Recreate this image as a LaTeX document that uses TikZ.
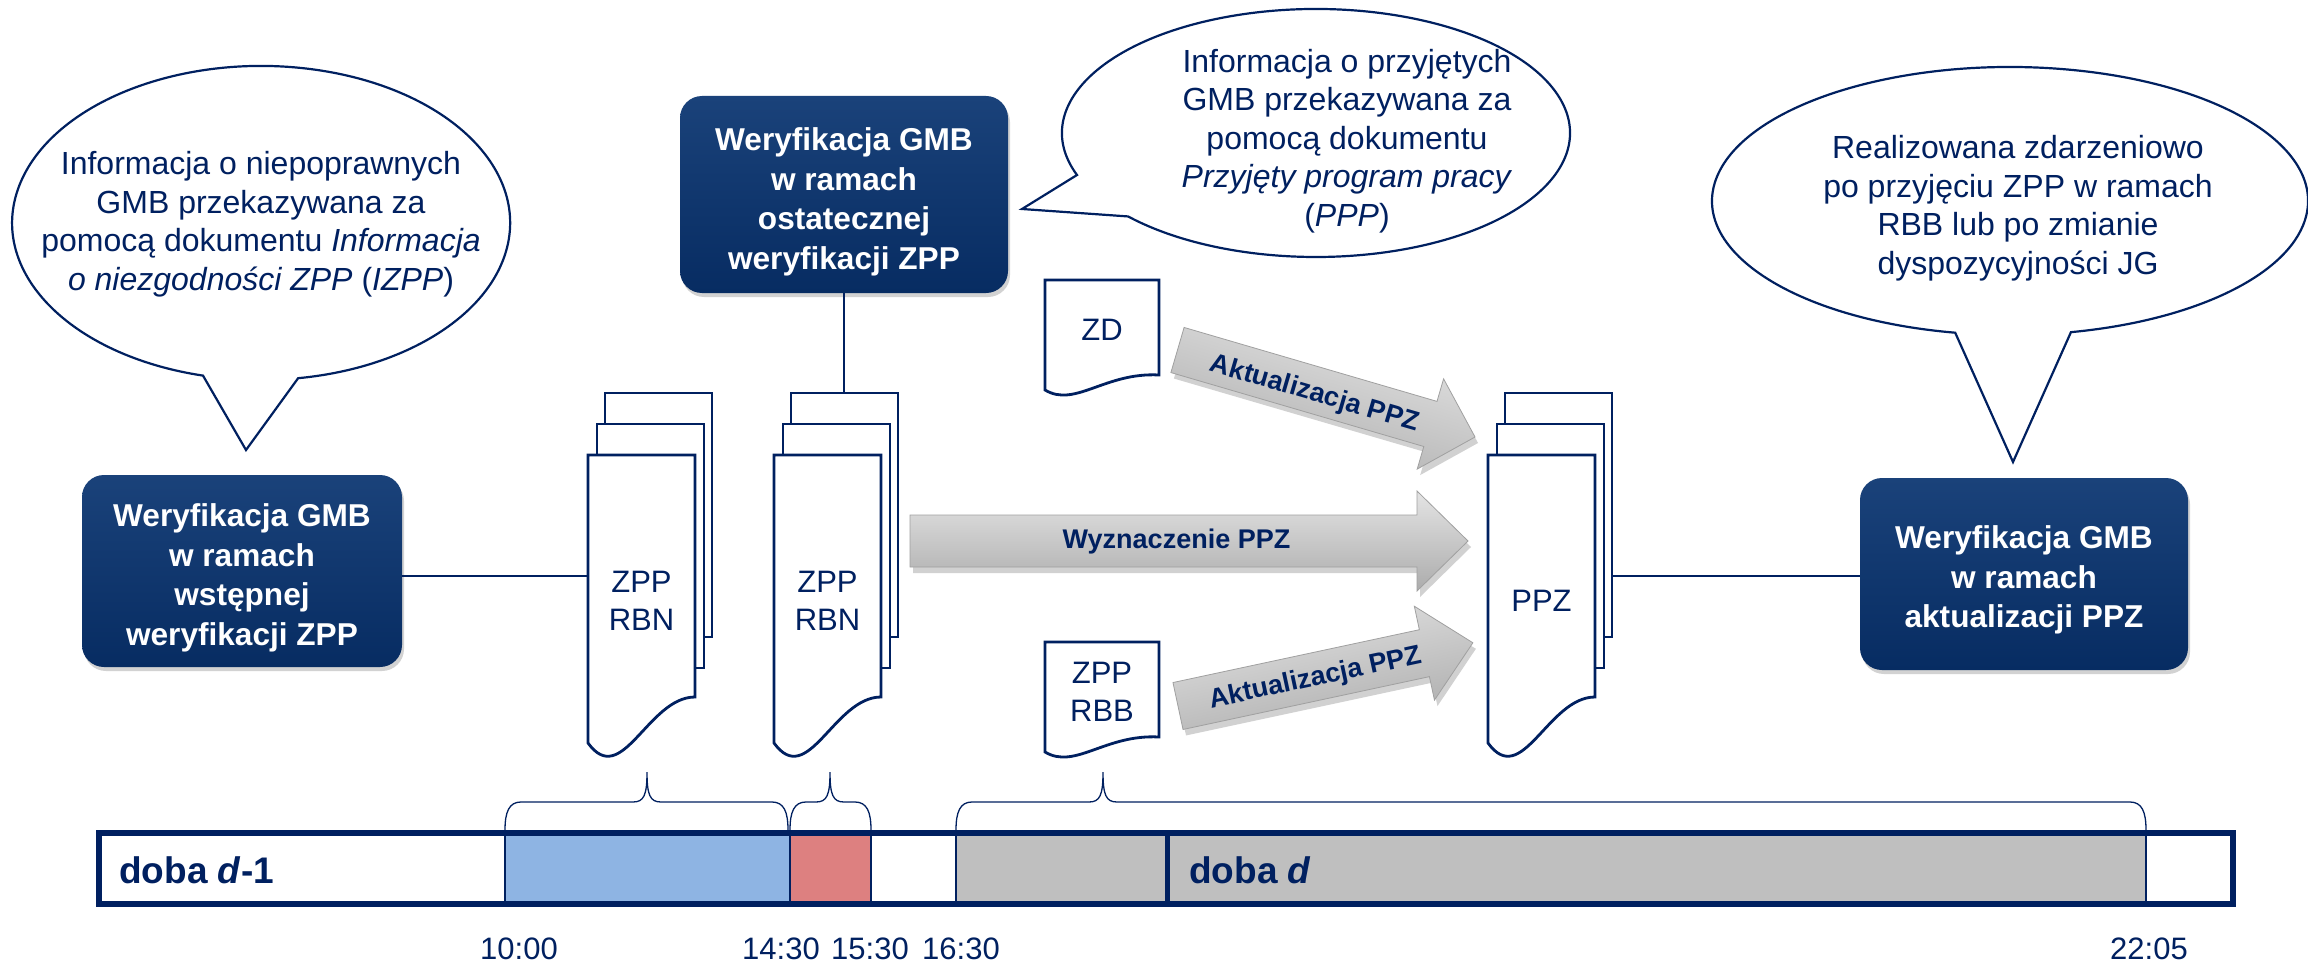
\documentclass[tikz,border=0pt]{standalone}
\usepackage{fontspec}
\setmainfont{Liberation Sans}
\usetikzlibrary{shadows}
\definecolor{navy}{RGB}{0,32,96}
\definecolor{boxblue}{RGB}{9,51,107}
\definecolor{boxtop}{RGB}{26,66,122}
\definecolor{boxbot}{RGB}{7,44,98}
\definecolor{segblue}{RGB}{142,180,227}
\definecolor{segred}{RGB}{221,128,128}
\definecolor{seggray}{RGB}{191,191,191}
\definecolor{arrlight}{RGB}{228,228,228}
\definecolor{arrmid}{RGB}{204,204,204}
\definecolor{arrdark}{RGB}{172,172,172}
\definecolor{arredge}{RGB}{160,160,160}
\newcommand\fsz[2]{\fontsize{#1}{#2}\selectfont}
\tikzset{
  bubble/.style={draw=navy, line width=2.2pt, fill=white},
  bubbletext/.style={text=navy, align=center, font=\fsz{32}{38.5}, inner sep=0pt},
  vbox/.style={rounded corners=22pt, top color=boxtop, middle color=boxblue, bottom color=boxbot,
    text=white, align=center, font=\fsz{31.6}{39.5}\bfseries, inner sep=0pt,
    drop shadow={shadow xshift=2pt, shadow yshift=-4pt, opacity=0.35}},
  docpage/.style={draw=navy, line width=2.8pt, fill=white},
  doctext/.style={text=navy, align=center, font=\fsz{31}{38.5}, inner sep=0pt},
  connector/.style={draw=navy, line width=1.5pt},
  bracestyle/.style={draw=navy, line width=1.3pt},
  arrowlabel/.style={text=navy, font=\fsz{27}{30}\bfseries, inner sep=0pt},
  timelabel/.style={text=navy, font=\fsz{31}{34}, inner sep=0pt, anchor=base},
  dobalabel/.style={text=navy, font=\fsz{37}{40}\bfseries, inner sep=0pt, anchor=base west},
}
% stack of three pages: #1 = left x of front page, #2 = node name, #3 = text
\newcommand\docstack[3]{%
  \path[docpage] ({#1+17},393) rectangle ({#1+124},637);
  \path[docpage] ({#1+9},424) rectangle ({#1+116},668);
  \path[docpage] (#1,455) -- ({#1+107},455) -- ({#1+107},697)
     .. controls ({#1+60},697) and ({#1+34},790) .. (#1,743) -- cycle;
  \node[doctext] (#2) at ({#1+53.5},601) {#3};
}
% single document: #1 left x, #2 top y, #3 name, #4 text
\newcommand\singledoc[4]{%
  \path[docpage] (#1,#2) -- ({#1+114},#2) -- ({#1+114},{#2+95})
     .. controls ({#1+60},{#2+92}) and ({#1+30},{#2+128}) .. (#1,{#2+110}) -- cycle;
  \node[doctext] (#3) at ({#1+57},{#2+50}) {#4};
}
% block arrow: #1,#2 back centre, #3 angle, #4 length, #5 head base, #6 shaft half, #7 head half
\newcommand\blockarrow[7]{%
  \fill[black, opacity=0.18, shift={({#1+3},{#2+6})}, rotate=#3]
    (0,-#6) -- (#5,-#6) -- (#5,-#7) -- (#4,0) -- (#5,#7) -- (#5,#6) -- (0,#6) -- cycle;
  \shade[top color=arrlight, middle color=arrmid, bottom color=arrdark, shading angle=#3,
    shift={(#1,#2)}, rotate=#3]
    (0,-#6) -- (#5,-#6) -- (#5,-#7) -- (#4,0) -- (#5,#7) -- (#5,#6) -- (0,#6) -- cycle;
  \draw[arredge, line width=0.8pt, shift={(#1,#2)}, rotate=#3]
    (0,-#6) -- (#5,-#6) -- (#5,-#7) -- (#4,0) -- (#5,#7) -- (#5,#6) -- (0,#6) -- cycle;
}
\newcommand\bracepath[3]{%
  \draw[bracestyle] (#1,830) .. controls (#1,812) and ({#1+4},802) .. ({#1+16},802)
    -- ({#2-14},802) .. controls ({#2-3},802) and (#2,795) .. (#2,772)
    .. controls (#2,795) and ({#2+3},802) .. ({#2+14},802)
    -- ({#3-16},802) .. controls ({#3-4},802) and (#3,812) .. (#3,830);
}
\begin{document}
\begin{tikzpicture}[x=1pt,y=-1pt]
\useasboundingbox (0,0) rectangle (2308,963);
\fill[white] (0,0) rectangle (2308,963);

% ---------- speech bubbles ----------
\path[bubble] (203,375.6) arc[start angle=103.5, end angle=441.45, x radius=249, y radius=157]
  -- (246,450) -- cycle;
\node[bubbletext] (b1) at (261,224) {Informacja o niepoprawnych\\GMB przekazywana za\\pomocą dokumentu \textit{Informacja}\\\textit{o niezgodności ZPP} (\textit{IZPP})};

\path[bubble] (1077,175) arc[start angle=160.2, end angle=497.7, x radius=254, y radius=124]
  -- (1022,209) -- cycle;
\node[bubbletext] (b2) at (1347,141) {Informacja o przyjętych\\GMB przekazywana za\\pomocą dokumentu\\\textit{Przyjęty program pracy}\\(\textit{PPP})};

\path[bubble] (1955.2,332.7) arc[start angle=100.6, end angle=438.2, x radius=298, y radius=134]
  -- (2013,462) -- cycle;
\node[bubbletext] (b3) at (2018,208) {Realizowana zdarzeniowo\\po przyjęciu ZPP w ramach\\RBB lub po zmianie\\dyspozycyjności JG};

% ---------- boxes ----------
\node[vbox, minimum width=320pt, minimum height=192pt] (lbox) at (242,571) {};
\node[text=white, align=center, font=\fsz{31.6}{39.5}\bfseries, inner sep=0pt] (lboxt) at (242,578)
  {Weryfikacja GMB\\w ramach\\wstępnej\\weryfikacji ZPP};
\node[vbox, minimum width=328pt, minimum height=197pt] (mbox) at (844,194.5) {};
\node[text=white, align=center, font=\fsz{31.6}{39.5}\bfseries, inner sep=0pt] (mboxt) at (844,202)
  {Weryfikacja GMB\\w ramach\\ostatecznej\\weryfikacji ZPP};
\node[vbox, minimum width=328pt, minimum height=192pt] (rbox) at (2024,574) {};
\node[text=white, align=center, font=\fsz{31.6}{39.5}\bfseries, inner sep=0pt] (rboxt) at (2024,580)
  {Weryfikacja GMB\\w ramach\\aktualizacji PPZ};

% ---------- connectors ----------
\coordinate (s1w) at (588,576);
\coordinate (s2top) at (844,393);
\coordinate (ppze) at (1611,576);
\draw[connector] (lbox.east |- s1w) -- (s1w);
\draw[connector] (mbox.south) -- (s2top);
\draw[connector] (ppze) -- (rbox.west |- ppze);

% ---------- documents ----------
\docstack{588}{s1}{ZPP\\RBN}
\docstack{774}{s2}{ZPP\\RBN}
\docstack{1488}{ppz}{PPZ}
\singledoc{1045}{280}{zd}{ZD}
\singledoc{1045}{642}{rbb}{ZPP\\RBB}

% ---------- block arrows ----------
\blockarrow{1177.5}{350}{-16.3}{310}{263.5}{23.5}{47}
\blockarrow{1178}{706}{12.1}{301.6}{252}{24}{48}
\blockarrow{910}{541}{0}{558}{507}{26}{50}
\begin{scope}[shift={(1177.5,350)}, rotate=-16.3]
  \node[arrowlabel, rotate=-16.3] (a1) at (144,4) {Aktualizacja PPZ};
\end{scope}
\begin{scope}[shift={(1178,706)}, rotate=12.1]
  \node[arrowlabel, rotate=12.1] (a3) at (140,2) {Aktualizacja PPZ};
\end{scope}
\node[arrowlabel] (a2) at (1176.5,542) {Wyznaczenie PPZ};

% ---------- braces ----------
\bracepath{505}{647}{788}
\bracepath{790}{830}{871}
\bracepath{956}{1103}{2146}

% ---------- time bar ----------
\fill[segblue] (505,833) rectangle (790,904);
\fill[segred] (790,833) rectangle (871,904);
\fill[seggray] (956,833) rectangle (2146,904);
\foreach \xx in {505,790,871,956,2146} \draw[navy, line width=1.2pt] (\xx,833) -- (\xx,904);
\node[draw=navy, line width=6pt, minimum width=2134pt, minimum height=71pt, inner sep=0pt] (bar) at (1166,868.5) {};
\draw[navy, line width=5pt] (1167,833) -- (1167,904);
\node[dobalabel] (dm1) at (119,883) {doba \textit{d}-1};
\node[dobalabel] (dd) at (1189,883) {doba \textit{d}};

\node[timelabel] (t1) at (519,959) {10:00};
\node[timelabel] (t2) at (781,959) {14:30};
\node[timelabel] (t3) at (870,959) {15:30};
\node[timelabel] (t4) at (961,959) {16:30};
\node[timelabel] (t5) at (2149,959) {22:05};
\end{tikzpicture}
\end{document}
